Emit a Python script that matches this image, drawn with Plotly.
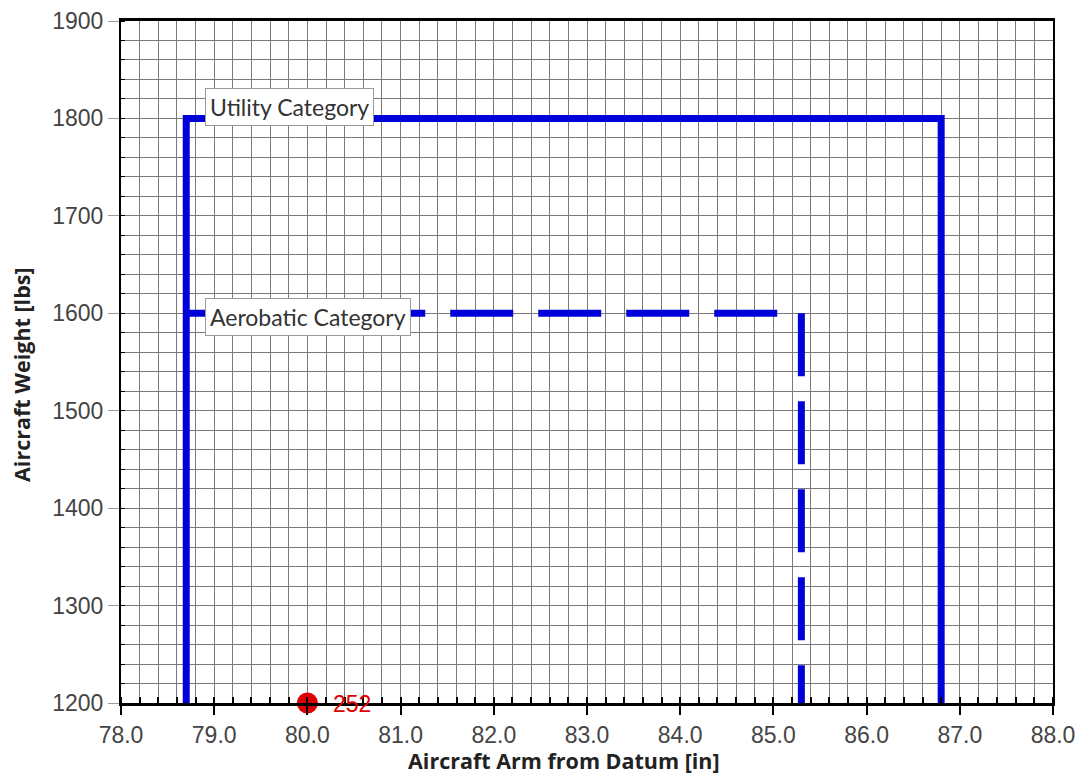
import plotly.graph_objects as go

# Weight & balance envelope data (arm in inches, weight in lbs)
utility_arm = [78.7, 78.7, 86.8, 86.8]
utility_weight = [1200, 1800, 1800, 1200]

aerobatic_top_arm = [78.7, 85.3]
aerobatic_top_weight = [1600, 1600]
aerobatic_aft_arm = [85.3, 85.3]
aerobatic_aft_weight = [1600, 1200]

# Loaded aircraft condition
cg_arm = [80.0]
cg_weight = [1200]
cg_labels = ["252"]

category_names = ["Utility Category", "Aerobatic Category"]
category_label_pos = [(78.9, 1800), (78.9, 1600)]

BLUE = "#0000d8"
RED = "#dd0000"
GRID = "#7a7a7a"

fig = go.Figure()

fig.add_trace(go.Scatter(
    x=utility_arm, y=utility_weight, mode="lines",
    line=dict(color=BLUE, width=7), hoverinfo="skip", showlegend=False,
))
fig.add_trace(go.Scatter(
    x=aerobatic_top_arm, y=aerobatic_top_weight, mode="lines",
    line=dict(color=BLUE, width=7, dash="63px,25px"), showlegend=False,
))
fig.add_trace(go.Scatter(
    x=aerobatic_aft_arm, y=aerobatic_aft_weight, mode="lines",
    line=dict(color=BLUE, width=7, dash="63px,25px"), showlegend=False,
))
fig.add_trace(go.Scatter(
    x=cg_arm, y=cg_weight, mode="markers",
    marker=dict(color=RED, size=21),
    cliponaxis=False, showlegend=False,
))
for cx, cy, lab in zip(cg_arm, cg_weight, cg_labels):
    fig.add_annotation(
        x=cx, y=cy, xref="x", yref="y", text=lab, showarrow=False,
        xanchor="left", yanchor="middle", xshift=24, yshift=-1,
        font=dict(family="Liberation Sans, Arial, sans-serif", size=23, color=RED),
    )

yshifts = [11, -4]
for name, (ax, ay), ys in zip(category_names, category_label_pos, yshifts):
    fig.add_annotation(
        x=ax, y=ay, xref="x", yref="y", text=name, showarrow=False,
        xanchor="left", yanchor="middle", yshift=ys,
        font=dict(family="Lato, sans-serif", size=23, color="#333333"),
        bgcolor="white", bordercolor="#9a9a9a", borderwidth=1, borderpad=4,
    )

title_font = dict(family="Open Sans, sans-serif", size=21.5, color="#222222")
fig.add_annotation(
    x=0.4753, y=-0.0836, xref="paper", yref="paper",
    text="<b>Aircraft Arm from Datum [in]</b>", showarrow=False,
    xanchor="center", yanchor="middle", font=title_font,
)
fig.add_annotation(
    x=-0.1062, y=0.481, xref="paper", yref="paper",
    text="<b>Aircraft Weight [lbs]</b>", showarrow=False, textangle=-90,
    xanchor="center", yanchor="middle", font=title_font,
)

tick_font = dict(family="Liberation Sans, Arial, sans-serif", size=23, color="#444444")

fig.update_xaxes(
    range=[78, 88], dtick=1, tick0=78, tickformat=".1f",
    ticks="outside", ticklen=9, tickwidth=2, tickcolor="black",
    tickfont=tick_font, automargin=False,
    showgrid=True, gridcolor=GRID, gridwidth=1,
    minor=dict(dtick=0.2, tick0=78, ticks="inside", ticklen=6, tickwidth=2,
               tickcolor="black", showgrid=True, gridcolor=GRID, gridwidth=1),
    showline=True, linecolor="black", linewidth=3, mirror=True,
    zeroline=False,
)
fig.update_yaxes(
    range=[1200, 1900], dtick=100, tick0=1200,
    ticks="outside", ticklen=11, tickwidth=1, tickcolor="#999999",
    tickfont=tick_font, automargin=False,
    showgrid=True, gridcolor=GRID, gridwidth=1,
    minor=dict(dtick=20, tick0=1200, ticks="inside", ticklen=4, tickwidth=1,
               tickcolor="black", showgrid=True, gridcolor=GRID, gridwidth=1),
    showline=True, linecolor="black", linewidth=2, mirror=True,
    zeroline=False,
)

fig.update_layout(
    width=1082, height=776,
    margin=dict(l=121, r=29, t=21, b=73),
    paper_bgcolor="white", plot_bgcolor="white",
    showlegend=False,
)

fig.write_html("out.html")
